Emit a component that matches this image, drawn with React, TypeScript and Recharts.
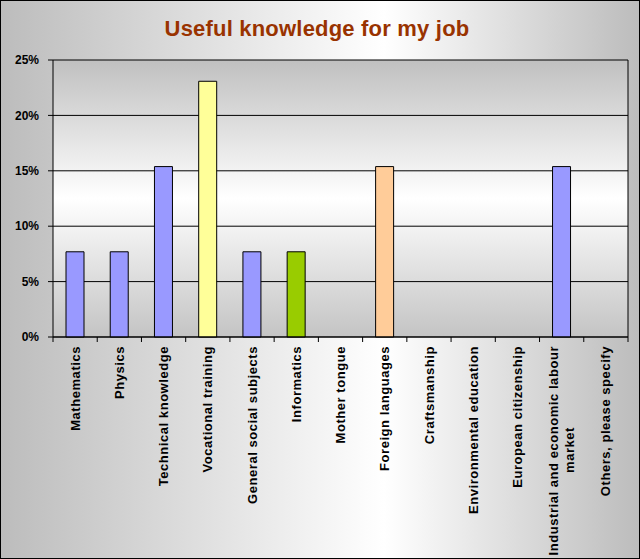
import React from 'react';
import { BarChart, Bar, XAxis, YAxis, CartesianGrid, Cell } from 'recharts';

const categories = [
  'Mathematics',
  'Physics',
  'Technical knowledge',
  'Vocational training',
  'General social subjects',
  'Informatics',
  'Mother tongue',
  'Foreign languages',
  'Craftsmanship',
  'Environmental education',
  'European citizenship',
  'Industrial and economic labour market',
  'Others, please specify',
];
const shares = [0.0769, 0.0769, 0.1538, 0.2308, 0.0769, 0.0769, 0, 0.1538, 0, 0, 0, 0.1538, 0];
const barColors = [
  '#9999FF', '#9999FF', '#9999FF', '#FFFF99', '#9999FF', '#99CC00', '#9999FF',
  '#FFCC99', '#9999FF', '#9999FF', '#9999FF', '#9999FF', '#9999FF',
];
const yTicks = [0, 0.05, 0.1, 0.15, 0.2, 0.25];
const title = 'Useful knowledge for my job';

const data = categories.map((name, i) => ({ name, value: shares[i] }));

const FONT = '"Liberation Sans", Arial, sans-serif';
const W = 640;
const H = 559;
const MARGIN = { top: 60, right: 11, left: 0, bottom: 0 };
const Y_W = 53;
const YR_W = 1;
const X_H = 222;
const PLOT_W = W - MARGIN.left - MARGIN.right - Y_W - YR_W;
const BAND = PLOT_W / categories.length;
const LABEL_SIZE = 13;
const LABEL_SPACING = 0.55;
const LONG_LINE_LEN = 208;

function wrap(s: string, max: number): string[] {
  const words = s.split(' ');
  const lines: string[] = [];
  let cur = '';
  for (const w of words) {
    const next = cur ? cur + ' ' + w : w;
    if (next.length > max && cur) {
      lines.push(cur);
      cur = w;
    } else cur = next;
  }
  if (cur) lines.push(cur);
  return lines;
}

function XTick(props: any) {
  const { x, y, payload, index } = props;
  const idx = payload?.index ?? index;
  const lines = wrap(String(payload.value), 30);
  const ty = y + 9;
  const textStyle = {
    fontFamily: FONT,
    fontSize: LABEL_SIZE,
    fontWeight: 'bold' as const,
    letterSpacing: LABEL_SPACING,
  };
  let label;
  if (lines.length === 1) {
    label = (
      <text transform={`translate(${x},${ty}) rotate(-90)`} textAnchor="end" dy="0.35em" fill="#000" style={textStyle}>
        {lines[0]}
      </text>
    );
  } else {
    label = (
      <g transform={`translate(${x},${ty}) rotate(-90)`}>
        {lines.map((ln, i) => (
          <text
            key={i}
            x={i === 0 ? 0 : -LONG_LINE_LEN / 2}
            y={(i - (lines.length - 1) / 2) * 16}
            textAnchor={i === 0 ? 'end' : 'middle'}
            dy="0.35em"
            fill="#000"
            style={textStyle}
          >
            {ln}
          </text>
        ))}
      </g>
    );
  }
  return (
    <g>
      <line x1={x - BAND / 2} x2={x - BAND / 2} y1={y} y2={y + 5} stroke="#000" />
      {idx === categories.length - 1 && <line x1={x + BAND / 2} x2={x + BAND / 2} y1={y} y2={y + 5} stroke="#000" />}
      {label}
    </g>
  );
}

export default function App() {
  return (
    <div
      style={{
        position: 'absolute',
        left: 0,
        top: 0,
        width: W,
        height: H,
        background: 'linear-gradient(to right, #bcbcbc 0%, #ffffff 60%, #bcbcbc 100%)',
      }}
    >
      <BarChart width={W} height={H} data={data} margin={MARGIN} barSize={18}>
        <defs>
          <linearGradient id="plotBg" x1="0" y1="0" x2="0" y2="1">
            <stop offset="0" stopColor="#c0c0c0" />
            <stop offset="0.5" stopColor="#ffffff" />
            <stop offset="1" stopColor="#c4c4c4" />
          </linearGradient>
        </defs>
        <CartesianGrid vertical={false} stroke="#000" fill="url(#plotBg)" fillOpacity={1} />
        <XAxis
          dataKey="name"
          height={X_H}
          interval={0}
          tickLine={false}
          tickSize={0}
          tickMargin={0}
          axisLine={{ stroke: '#000' }}
          tick={(p: any) => <XTick {...p} />}
        />
        <YAxis
          width={Y_W}
          domain={[0, 0.25]}
          ticks={yTicks}
          interval={0}
          tickSize={5}
          tickMargin={9}
          axisLine={{ stroke: '#000' }}
          tickLine={{ stroke: '#000' }}
          tickFormatter={(v: number) => `${Math.round(v * 100)}%`}
          tick={{ fill: '#000', fontSize: 12, fontWeight: 'bold', fontFamily: FONT }}
        />
        <YAxis
          yAxisId="r"
          orientation="right"
          width={YR_W}
          domain={[0, 0.25]}
          tick={false}
          tickLine={false}
          axisLine={{ stroke: '#000' }}
        />
        <Bar dataKey="value" stroke="#000" strokeWidth={1} isAnimationActive={false}>
          {data.map((d, i) => (
            <Cell key={d.name} fill={barColors[i]} />
          ))}
        </Bar>
        <text
          x={317}
          y={35.5}
          textAnchor="middle"
          fill="#993300"
          style={{ fontFamily: FONT, fontSize: 22, fontWeight: 'bold', letterSpacing: 0.2 }}
        >
          {title}
        </text>
      </BarChart>
      <div style={{ position: 'absolute', inset: 0, border: '1px solid #000', pointerEvents: 'none' }} />
    </div>
  );
}
